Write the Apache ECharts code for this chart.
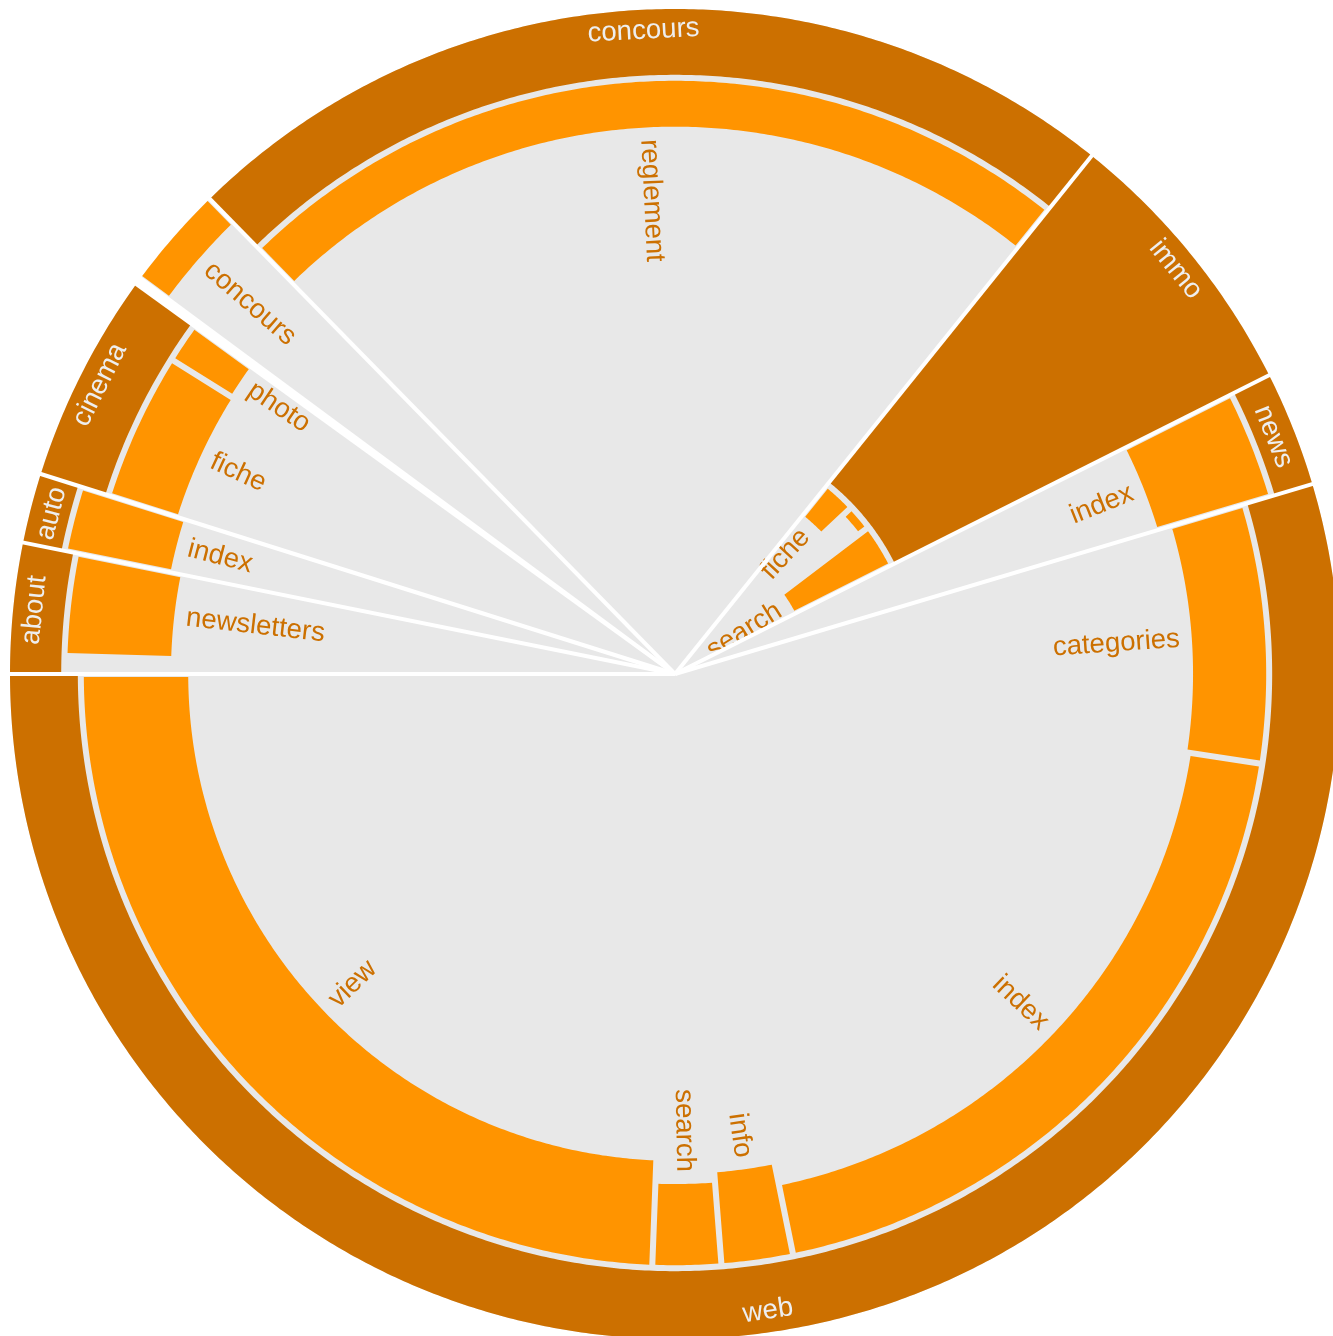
<!DOCTYPE html>
<html><head><meta charset="utf-8">
<script src="https://cdn.jsdelivr.net/npm/echarts@6/dist/echarts.min.js"></script>
<style>html,body{margin:0;padding:0;background:#fff}#chart{width:1333px;height:1336px}</style>
</head><body><div id="chart"></div>
<script>
// ---- data (top-level sections, clockwise starting at 9 o'clock) ----
const sectionNames  = ['about', 'auto', 'cinema', '', '', 'concours', 'immo', 'news', 'web'];
const sectionSizes  = [11.4, 6.1, 18.4, 0.6, 9.1, 83.2, 24.5, 10.1, 196.6];
const sectionDepths = [92.3, 94.1, 89.8, null, 100.9, 90.1, 37.0, 94.1, 89.8];

// ---- pages (children of sections) ----
const pageParents = [0, 0, 1, 2, 2, 4, 5, 6, 6, 6, 7, 8, 8, 8, 8, 8];
const pageNames   = ['', 'newsletters', 'index', 'fiche', 'photo', 'concours', 'reglement',
                     'fiche', '', 'search', 'index', 'categories', 'index', 'info', 'search', 'view'];
const pageSizes   = [1.7, 9.7, 6.1, 14.5, 3.9, 9.1, 83.2, 7.8, 6.2, 10.5, 10.1, 25.3, 69.8, 7.0, 6.7, 87.8];
const pageDepths  = [null, 75.8, 77.4, 78.5, 78.8, 95.0, 82.3, 30.7, 34.9, 20.3, 75.8, 77.9, 78.5, 75.2, 76.7, 73.2];

// ---- style constants ----
const DARK = '#cc7000', ORANGE = '#ff9400', GREY = '#e8e8e8', WHITE = '#ffffff';
const OUTER = 100, BAND_GAP = 0.9, PAD_PX = 3, LABEL_GAP = 1.8, SECTION_LABEL_R = 96.8;
const FONT = '27.6px "Liberation Sans", Arial, Helvetica, sans-serif';
const START = 180;

// ---- layout (angles in degrees, counterclockwise positive) ----
const sections = [];
let acc = START;
sectionSizes.forEach((s, i) => { sections.push({ i, a1: acc, a2: acc - s }); acc -= s; });
const cursor = sections.map(s => s.a1);
const pages = pageSizes.map((s, j) => {
  const p = pageParents[j]; const a1 = cursor[p]; cursor[p] -= s;
  return { j, p, a1, a2: a1 - s };
});

const norm = a => ((a % 360) + 360) % 360;
const D2R = Math.PI / 180;

function wedge(api, r0, r1, a1, a2, padPx, color, pxPerUnit) {
  const pts = [];
  const delta = r => (padPx && r > 0) ? Math.asin(Math.min(1, padPx / (r * pxPerUnit))) / D2R : 0;
  const arc = (r, from, to) => {
    const n = Math.max(2, Math.ceil(Math.abs(from - to) / 0.4));
    for (let k = 0; k <= n; k++) {
      const a = from + (to - from) * k / n;
      pts.push(api.coord([r, norm(a)]).slice(0, 2));
    }
  };
  const d1 = delta(r1);
  arc(r1, a1 - d1, a2 + d1);
  if (r0 <= 0) pts.push(api.coord([0, 0]).slice(0, 2));
  else { const d0 = delta(r0); arc(r0, a2 + d0, a1 - d0); }
  return { type: 'polygon', shape: { points: pts }, style: { fill: color }, silent: true };
}

function renderSection(params, api) {
  const s = sections[params.dataIndex];
  const depth = sectionDepths[s.i];
  const c = api.coord([0, 0]);
  const e = api.coord([OUTER, 0]);
  const pxPerUnit = Math.hypot(e[0] - c[0], e[1] - c[1]) / OUTER;
  const els = [];
  if (depth == null) return { type: 'group', children: els };
  els.push(wedge(api, 0, OUTER, s.a1, s.a2, 0, GREY, pxPerUnit));
  if (depth < OUTER) els.push(wedge(api, depth, OUTER, s.a1, s.a2, 0, DARK, pxPerUnit));
  const kids = pages.filter(p => p.p === s.i);
  kids.forEach(p => {
    const d = pageDepths[p.j];
    if (d == null) return;
    const outer = Math.min(OUTER, depth - BAND_GAP);
    els.push(wedge(api, d, outer, p.a1, p.a2, PAD_PX, ORANGE, pxPerUnit));
  });
  kids.forEach(p => {
    const d = pageDepths[p.j];
    const name = pageNames[p.j];
    if (d == null || !name) return;
    const mid = (p.a1 + p.a2) / 2;
    const right = Math.cos(mid * D2R) >= 0;
    const pt = api.coord([d - LABEL_GAP, norm(mid)]);
    els.push({
      type: 'text', x: pt[0], y: pt[1],
      rotation: (right ? mid : mid + 180) * D2R,
      silent: true,
      style: { text: name, fill: DARK, font: FONT, align: right ? 'right' : 'left', verticalAlign: 'middle' }
    });
  });
  const name = sectionNames[s.i];
  if (name && depth < OUTER) {
    const mid = (s.a1 + s.a2) / 2;
    const top = Math.sin(mid * D2R) >= 0;
    const pt = api.coord([SECTION_LABEL_R, norm(mid)]);
    els.push({
      type: 'text', x: pt[0], y: pt[1],
      rotation: (top ? mid - 90 : mid + 90) * D2R,
      silent: true,
      style: { text: name, fill: '#eeeeee', font: FONT, align: 'center', verticalAlign: 'middle' }
    });
  }
  return { type: 'group', children: els };
}

function renderDivider(params, api) {
  const a = norm(sections[params.dataIndex].a1);
  const p0 = api.coord([0, a]);
  const p1 = api.coord([OUTER + 0.5, a]);
  return {
    type: 'line', silent: true,
    shape: { x1: p0[0], y1: p0[1], x2: p1[0], y2: p1[1] },
    style: { stroke: WHITE, lineWidth: 4 }
  };
}

const chart = echarts.init(document.getElementById('chart'), null, { renderer: 'canvas' });
chart.setOption({
  animation: false,
  backgroundColor: '#ffffff',
  polar: { center: [675, 674], radius: 665 },
  angleAxis: { type: 'value', min: 0, max: 360, startAngle: 0, clockwise: false, show: false },
  radiusAxis: { type: 'value', min: 0, max: OUTER, show: false },
  series: [
    { type: 'custom', coordinateSystem: 'polar', renderItem: renderSection,
      data: sections.map(s => [s.i]), z: 2 },
    { type: 'custom', coordinateSystem: 'polar', renderItem: renderDivider,
      data: sections.map(s => [s.i]), z: 3 }
  ]
});
</script>
</body></html>
